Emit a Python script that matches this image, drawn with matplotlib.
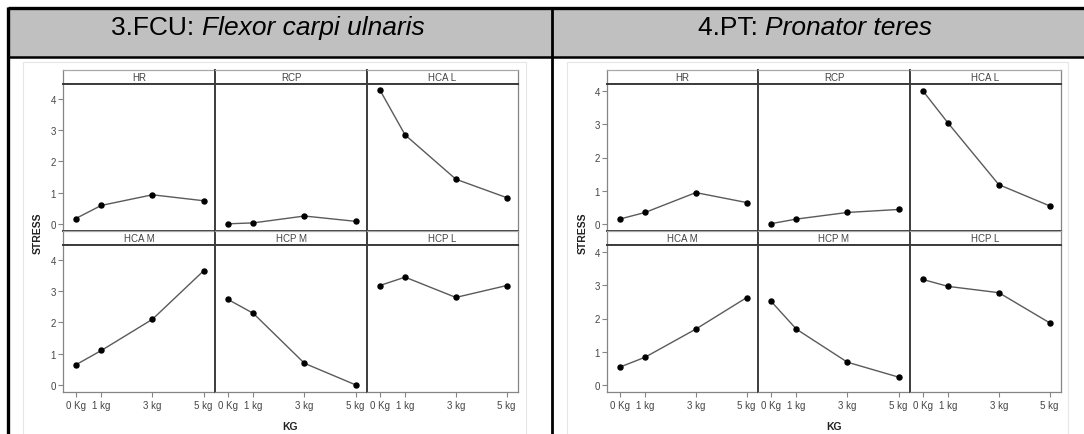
import matplotlib
matplotlib.use('Agg')
import matplotlib.pyplot as plt
from matplotlib.patches import Rectangle
from matplotlib.lines import Line2D

plt.rcParams['font.family'] = ['Liberation Sans', 'DejaVu Sans']

W, H = 1084, 435

# ---------------- data ----------------
kg_pos = [0, 1, 3, 5]
kg_labels = ['0 Kg', '1 kg', '3 kg', '5 kg']
panel_names = ['HR', 'RCP', 'HCA L', 'HCA M', 'HCP M', 'HCP L']

# 3.FCU: Flexor carpi ulnaris
fcu_hr = [0.17, 0.59, 0.93, 0.74]
fcu_rcp = [0.00, 0.03, 0.25, 0.08]
fcu_hca_l = [4.30, 2.85, 1.43, 0.84]
fcu_hca_m = [0.64, 1.10, 2.10, 3.65]
fcu_hcp_m = [2.74, 2.29, 0.69, 0.00]
fcu_hcp_l = [3.18, 3.45, 2.80, 3.18]

# 4.PT: Pronator teres
pt_hr = [0.14, 0.34, 0.94, 0.64]
pt_rcp = [0.00, 0.14, 0.34, 0.43]
pt_hca_l = [4.02, 3.04, 1.18, 0.54]
pt_hca_m = [0.53, 0.83, 1.68, 2.63]
pt_hcp_m = [2.53, 1.68, 0.68, 0.23]
pt_hcp_l = [3.18, 2.97, 2.78, 1.87]

y_ticks = [0, 1, 2, 3, 4]
title_left = ('3.FCU: ', 'Flexor carpi ulnaris')
title_right = ('4.PT: ', 'Pronator teres')
x_title = 'KG'
y_title = 'STRESS'

fcu_series = [fcu_hr, fcu_rcp, fcu_hca_l, fcu_hca_m, fcu_hcp_m, fcu_hcp_l]
pt_series = [pt_hr, pt_rcp, pt_hca_l, pt_hca_m, pt_hcp_m, pt_hcp_l]

# ---------------- figure / table frame ----------------
fig = plt.figure(figsize=(W / 100, H / 100), dpi=100)
bg = fig.add_axes([0, 0, 1, 1])
bg.set_xlim(0, W)
bg.set_ylim(H, 0)
bg.axis('off')

# header fill
bg.add_patch(Rectangle((8, 9), W - 8, 49, facecolor='#c0c0c0', edgecolor='none', zorder=0))
# table lines
bg.plot([7.5, W], [9, 9], color='black', lw=2.4, solid_capstyle='butt')
bg.plot([7.5, W], [58, 58], color='black', lw=1.8, solid_capstyle='butt')
bg.plot([7.5, 7.5], [8, H], color='black', lw=2.4, solid_capstyle='butt')
bg.plot([552, 552], [8, H], color='black', lw=2.0, solid_capstyle='butt')
# chart image boxes
bg.add_patch(Rectangle((23, 63), 503, 380, facecolor='white', edgecolor='#e6e6e6', lw=0.8))
bg.add_patch(Rectangle((567, 63), 501, 380, facecolor='white', edgecolor='#e6e6e6', lw=0.8))


def px_box(x0, y0, x1, y1):
    return [x0 / W, 1 - y1 / H, (x1 - x0) / W, (y1 - y0) / H]


def put_title(cx, base_y, normal, italic):
    t1 = fig.text(0, 1 - base_y / H, normal, fontsize=19, va='baseline', ha='left', color='black')
    t2 = fig.text(0, 1 - base_y / H, italic, fontsize=19, va='baseline', ha='left',
                  style='italic', color='black')
    fig.canvas.draw()
    r = fig.canvas.get_renderer()
    w1 = t1.get_window_extent(r).width
    w2 = t2.get_window_extent(r).width
    x0 = cx - (w1 + w2) / 2
    t1.set_x(x0 / W)
    t2.set_x((x0 + w1) / W)


DARK = '#3c3c3c'
GRAY = '#858585'
LIGHT = '#a8a8a8'
TXT = '#454545'


def draw_chart(col_edges, series, ylim, label_x, kg_x):
    row_strips = [(71, 85), (232, 246)]
    row_plots = [(85, 232), (246, 393)]
    for idx, (name, vals) in enumerate(zip(panel_names, series)):
        r, c = divmod(idx, 3)
        x0, x1 = col_edges[c], col_edges[c + 1]
        # strip
        sy0, sy1 = row_strips[r]
        sax = fig.add_axes(px_box(x0, sy0, x1, sy1))
        sax.set_xticks([])
        sax.set_yticks([])
        sax.set_facecolor('white')
        sax.spines['top'].set_color(LIGHT)
        sax.spines['top'].set_linewidth(0.9)
        sax.spines['bottom'].set_color(DARK)
        sax.spines['bottom'].set_linewidth(1.4)
        sax.spines['left'].set_color(GRAY if c == 0 else DARK)
        sax.spines['left'].set_linewidth(0.9 if c == 0 else 1.4)
        sax.spines['right'].set_color(GRAY)
        sax.spines['right'].set_linewidth(0.9)
        sax.spines['right'].set_visible(c == 2)
        sax.text(0.5, 0.5, name, transform=sax.transAxes, ha='center', va='center',
                 fontsize=7, color=TXT)
        # plot
        py0, py1 = row_plots[r]
        ax = fig.add_axes(px_box(x0, py0, x1, py1))
        ax.plot(kg_pos, vals, color='#5a5a5a', lw=1.0, marker='o', markersize=3.6,
                markerfacecolor='black', markeredgecolor='black', zorder=3)
        ax.set_xlim(-0.5, 5.45)
        ax.set_ylim(*ylim)
        ax.spines['top'].set_color(DARK)
        ax.spines['top'].set_linewidth(1.4)
        ax.spines['left'].set_color(GRAY if c == 0 else DARK)
        ax.spines['left'].set_linewidth(0.9 if c == 0 else 1.4)
        ax.spines['right'].set_color(GRAY)
        ax.spines['right'].set_linewidth(0.9)
        ax.spines['right'].set_visible(c == 2)
        ax.spines['bottom'].set_color(GRAY if r == 1 else DARK)
        ax.spines['bottom'].set_linewidth(0.9 if r == 1 else 1.4)
        if c == 0:
            ax.set_yticks(y_ticks)
            ax.set_yticklabels([str(v) for v in y_ticks])
            ax.tick_params(axis='y', length=3.5, width=0.8, color=GRAY, labelsize=7,
                           labelcolor=TXT, pad=1.5)
        else:
            ax.set_yticks([])
        if r == 1:
            ax.set_xticks(kg_pos)
            ax.set_xticklabels(kg_labels)
            ax.tick_params(axis='x', length=3.5, width=0.8, color=GRAY, labelsize=7,
                           labelcolor=TXT, pad=2)
        else:
            ax.set_xticks([])
    fig.text(kg_x / W, 1 - 427 / H, x_title, ha='center', va='center', fontsize=7.5,
             fontweight='bold', color='#222222')
    fig.text(label_x / W, 1 - 233 / H, y_title, ha='center', va='center', fontsize=7.5,
             fontweight='bold', rotation=90, color='#222222')


draw_chart([63, 215, 367, 518], fcu_series, (-0.23, 4.48), 38, 290)
draw_chart([607, 758, 910, 1061], pt_series, (-0.22, 4.22), 583, 834)

put_title(268, 35, *title_left)
put_title(815, 35, *title_right)

fig.savefig('out.png', dpi=100)
